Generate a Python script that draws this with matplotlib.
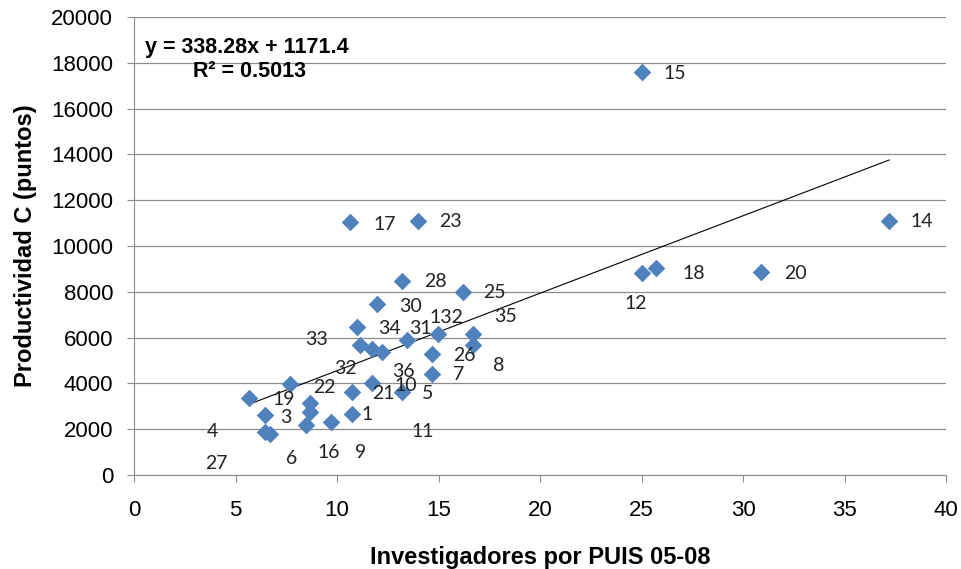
import numpy as np
import matplotlib
matplotlib.use("Agg")
import matplotlib.pyplot as plt

# investigadores por PUIS vs productividad C
inv = [5.68, 6.45, 6.45, 6.7, 7.68, 8.47, 8.67, 8.67, 9.69, 10.72, 10.72, 10.64,
       10.97, 11.13, 11.71, 11.71, 11.95, 12.2, 13.19, 13.22, 13.43, 13.99, 14.7,
       14.7, 14.99, 16.19, 16.71, 16.71, 25.0, 25.0, 25.7, 30.9, 37.2]
prod = [3350, 2620, 1890, 1790, 3960, 2180, 3160, 2760, 2300, 2650, 3610, 11050,
        6450, 5680, 5490, 4000, 7450, 5360, 3640, 8480, 5900, 11090, 5270,
        4400, 6160, 7980, 6160, 5680, 17600, 8800, 9040, 8860, 11100]

# data labels (Excel left them shifted away from the markers)
lab_txt = ["28", "25", "30", "132", "35", "34", "31", "33", "26", "8", "32", "7",
           "36", "22", "10", "21", "5", "19", "3", "1", "4", "11", "16", "9", "6",
           "27", "17", "23", "15", "14", "18", "20", "12"]
lab_x = [14.83, 17.78, 13.6, 15.4, 18.3, 12.56, 14.1, 8.97, 16.3, 17.98, 10.44, 16.0,
         13.25, 9.36, 13.4, 12.3, 14.48, 7.39, 7.49, 11.48, 3.84, 14.24, 9.6, 11.18,
         7.78, 4.04, 12.36, 15.57, 26.65, 38.8, 27.6, 32.6, 24.7]
lab_y = [8430, 7950, 7340, 6860, 6900, 6380, 6380, 5900, 5240, 4760, 4630, 4410,
         4500, 3840, 3890, 3540, 3580, 3280, 2530, 2660, 1880, 1880, 1000, 1000,
         700, 520, 10960, 11050, 17550, 11050, 8820, 8820, 7510]

slope, icpt = 338.28, 1171.4

arial = "Liberation Sans"
lab_font = "Lato"

fig = plt.figure(figsize=(9.61, 5.69), dpi=100)
ax = fig.add_axes([134/961, 1 - 475/569, (946 - 134)/961, (475 - 17)/569])

ax.scatter(inv, prod, marker="D", s=80, color="#4F81BD", zorder=3, linewidths=0)

xs = np.array([min(inv), max(inv)])
ax.plot(xs, slope * xs + icpt, color="black", lw=0.8, zorder=2)

for t, x, y in zip(lab_txt, lab_x, lab_y):
    ax.text(x, y, t, ha="center", va="center", fontsize=14,
            family=lab_font, color="#222222", zorder=4)

ax.text(0.0135, 0.934, "y = 338.28x + 1171.4", transform=ax.transAxes,
        fontsize=15.5, fontweight="bold", family=arial, va="center")
ax.text(0.073, 0.88, "R² = 0.5013", transform=ax.transAxes,
        fontsize=15.5, fontweight="bold", family=arial, va="center")

ax.set_xlim(0, 40)
ax.set_ylim(0, 20000)
ax.set_xticks(np.arange(0, 41, 5))
ax.set_yticks(np.arange(0, 20001, 2000))
ax.yaxis.grid(True, color="#8c8c8c", lw=0.9)
ax.set_axisbelow(True)
for s in ["top", "right"]:
    ax.spines[s].set_visible(False)
for s in ["left", "bottom"]:
    ax.spines[s].set_color("#8c8c8c")
ax.tick_params(axis="both", colors="#8c8c8c", length=5, labelcolor="black",
               labelsize=16)
ax.tick_params(axis="x", pad=13)
ax.tick_params(axis="y", pad=10)
for lbl in ax.get_xticklabels() + ax.get_yticklabels():
    lbl.set_family(arial)

ax.set_xlabel("Investigadores por PUIS 05-08", fontsize=17, fontweight="bold",
              family=arial, labelpad=18)
ax.set_ylabel("Productividad C (puntos)", fontsize=17, fontweight="bold",
              family=arial, labelpad=10)

fig.savefig("out.png", dpi=100)
